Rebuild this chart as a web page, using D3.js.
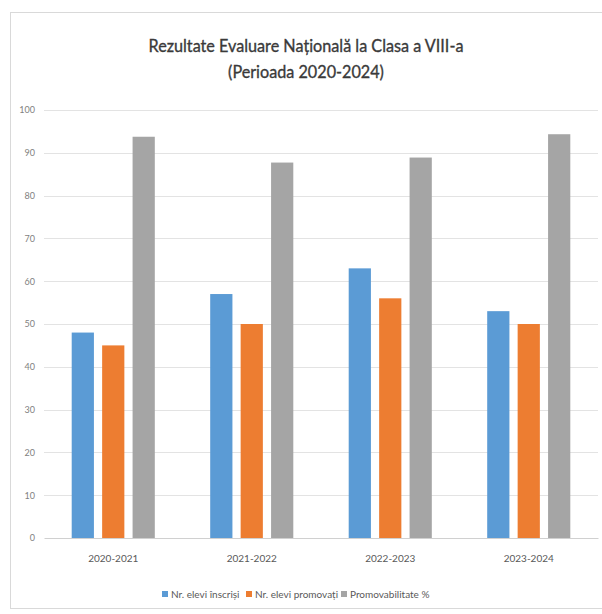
<!DOCTYPE html>
<html>
<head>
<meta charset="utf-8">
<script src="https://cdn.jsdelivr.net/npm/d3@7/dist/d3.min.js"></script>
<style>
  html, body { margin: 0; padding: 0; background: #fff; }
  svg { display: block; }
  text { font-family: Lato, 'Open Sans', sans-serif; }
</style>
</head>
<body>
<svg id="chart" width="602" height="614"></svg>
<script>
// Exam results per school year
const years = ["2020-2021", "2021-2022", "2022-2023", "2023-2024"];
const enrolled = [48, 57, 63, 53];
const promoted = [45, 50, 56, 50];
const passRate = [93.75, 87.72, 88.89, 94.34];

const seriesNames = ["Nr. elevi înscriși", "Nr. elevi promovați", "Promovabilitate %"];
const seriesColors = ["#5B9BD5", "#ED7D31", "#A5A5A5"];
const yTicks = [0, 10, 20, 30, 40, 50, 60, 70, 80, 90, 100];

const titleLines = ["Rezultate Evaluare Națională la Clasa a VIII-a", "(Perioada 2020-2024)"];

const seriesValues = [enrolled, promoted, passRate];
const rows = years.map((y, i) => ({ year: y, values: seriesValues.map(s => s[i]) }));

const svg = d3.select("#chart");
const plot = { left: 44, right: 598, top: 110, bottom: 538 };

// chart frame
svg.append("rect")
  .attr("x", 10.5).attr("y", 12.5)
  .attr("width", 600).attr("height", 596)
  .attr("fill", "#fff")
  .attr("stroke", "#d9d9d9").attr("stroke-width", 1);

// title: narrow, slightly heavy lettering
const title = svg.append("text")
  .attr("text-anchor", "middle")
  .attr("transform", "translate(306,0) scale(0.9,1)")
  .attr("font-size", 18)
  .attr("fill", "#3a3a3a")
  .attr("stroke", "#3a3a3a")
  .attr("stroke-width", 0.35);
titleLines.forEach((t, i) => {
  title.append("tspan").attr("x", 0).attr("y", 52 + i * 26).text(t);
});

const x0 = d3.scaleBand()
  .domain(years)
  .range([plot.left, plot.right])
  .paddingInner(0.4)
  .paddingOuter(0.2);

const x1 = d3.scaleBand()
  .domain(d3.range(seriesNames.length))
  .range([0, x0.bandwidth()])
  .paddingInner(0.27);

const y = d3.scaleLinear().domain([0, 100]).range([plot.bottom, plot.top]);

// gridlines
svg.append("g")
  .selectAll("line")
  .data(yTicks.slice(1))
  .join("line")
  .attr("x1", plot.left).attr("x2", plot.right)
  .attr("y1", d => Math.round(y(d)) + 0.5)
  .attr("y2", d => Math.round(y(d)) + 0.5)
  .attr("stroke", "#e3e3e3").attr("stroke-width", 1);

// y axis labels
const yAxis = d3.axisLeft(y).tickValues(yTicks).tickSize(0).tickPadding(0);
const yG = svg.append("g")
  .attr("transform", `translate(${plot.left - 9},0)`)
  .call(yAxis);
yG.select(".domain").remove();
yG.selectAll("text")
  .attr("font-family", null)
  .attr("font-size", 9)
  .attr("fill", "#7f7f7f");

// bars
svg.append("g")
  .selectAll("g")
  .data(rows)
  .join("g")
  .attr("transform", d => `translate(${x0(d.year)},0)`)
  .selectAll("rect")
  .data(d => d.values.map((v, i) => ({ v, i })))
  .join("rect")
  .attr("x", d => x1(d.i))
  .attr("width", x1.bandwidth())
  .attr("y", d => y(d.v))
  .attr("height", d => y(0) - y(d.v))
  .attr("fill", d => seriesColors[d.i]);

// baseline and category labels
const xAxis = d3.axisBottom(x0).tickSize(0).tickPadding(17);
const xG = svg.append("g")
  .attr("transform", `translate(0,${plot.bottom})`)
  .call(xAxis);
xG.select(".domain").attr("stroke", "#d0d0d0");
xG.selectAll("text")
  .attr("font-family", null)
  .attr("font-size", 10)
  .attr("fill", "#595959");

// legend
const legendX = [162, 246, 341];
const legend = svg.append("g").attr("transform", "translate(0,594)");
seriesNames.forEach((name, i) => {
  const g = legend.append("g").attr("transform", `translate(${legendX[i]},0)`);
  g.append("rect").attr("x", 0).attr("y", -3).attr("width", 6).attr("height", 6)
    .attr("fill", seriesColors[i]);
  g.append("text")
    .attr("x", 9).attr("y", 3.5)
    .attr("font-size", 10)
    .attr("fill", "#595959")
    .text(name);
});
</script>
</body>
</html>
